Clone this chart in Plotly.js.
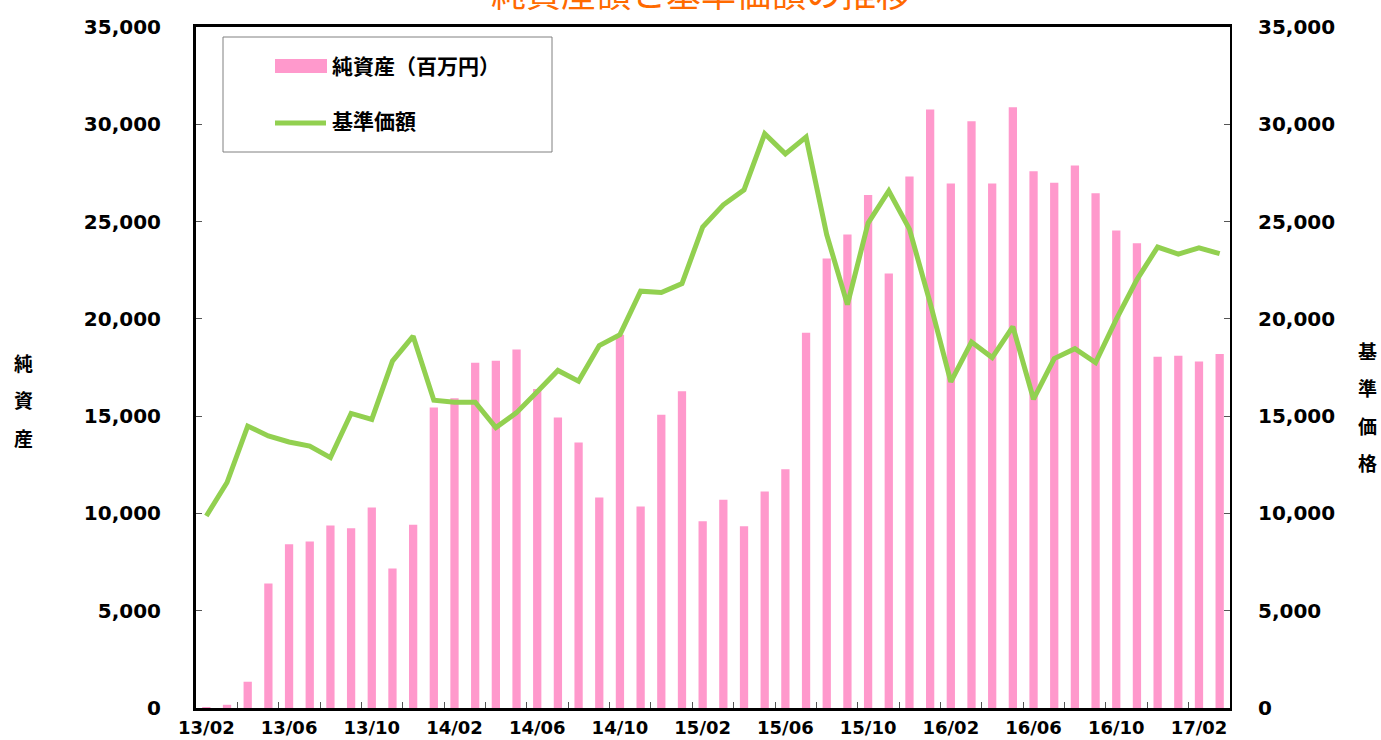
<!DOCTYPE html>
<html>
<head>
<meta charset="utf-8">
<script src="https://cdn.plot.ly/plotly-3.0.1.min.js"></script>
<style>
html,body{margin:0;padding:0;background:#fff;}
#chart{width:1381px;height:740px;}
</style>
</head>
<body>
<div id="chart"></div>
<script>
// Month labels (YY/MM)
const months = ["13/02","13/03","13/04","13/05","13/06","13/07","13/08","13/09","13/10","13/11","13/12",
  "14/01","14/02","14/03","14/04","14/05","14/06","14/07","14/08","14/09","14/10","14/11","14/12",
  "15/01","15/02","15/03","15/04","15/05","15/06","15/07","15/08","15/09","15/10","15/11","15/12",
  "16/01","16/02","16/03","16/04","16/05","16/06","16/07","16/08","16/09","16/10","16/11","16/12",
  "17/01","17/02","17/03"];

// 純資産（百万円）
const netAssets = [40,165,1350,6400,8420,8560,9380,9240,10300,7170,9420,
  15450,15920,17740,17850,18430,16400,14930,13650,10820,19180,10360,15070,
  16280,9600,10700,9340,11130,12270,19280,23100,24330,26360,22330,27320,
  30760,26960,30150,26960,30870,27580,27000,27880,26450,24540,23890,18050,
  18100,17810,18200];

// 基準価額
const nav = [9870,11590,14490,13980,13670,13460,12870,15140,14830,17830,19110,
  15820,15720,15720,14410,15180,16250,17350,16800,18630,19190,21420,21350,
  21810,24720,25860,26630,29510,28480,29340,24320,20730,24920,26570,24610,
  20820,16760,18810,18010,19600,15870,17960,18470,17750,19970,22020,23690,
  23330,23650,23350];

const chartTitle = "純資産額と基準価額の推移";
const seriesNames = ["純資産（百万円）", "基準価額"];
const leftAxisChars = ["純","資","産"];
const rightAxisChars = ["基","準","価","格"];

const xIdx = months.map((_, i) => i);
const labelIdx = xIdx.filter(i => i % 4 === 0);
const minorIdx = xIdx.filter(i => i % 2 === 1 && i < months.length - 1).map(i => i + 0.5);

const pink = "#FF99CC";
const green = "#92D050";

const traces = [
  {
    type: "bar", name: seriesNames[0], x: xIdx, y: netAssets,
    width: 0.4, marker: {color: pink, line: {width: 0}},
    yaxis: "y", showlegend: false, hoverinfo: "x+y"
  },
  {
    type: "scatter", mode: "lines", name: seriesNames[1], x: xIdx, y: nav,
    line: {color: green, width: 5, shape: "linear"},
    yaxis: "y2", showlegend: false
  }
];

const tickFontY = {family: "DejaVu Sans, Verdana, sans-serif", size: 20, color: "#000", weight: "bold"};
const tickFontX = {family: "DejaVu Sans, Verdana, sans-serif", size: 18, color: "#000", weight: "bold"};
const cjk = "Noto Sans CJK JP, Noto Sans CJK SC, sans-serif";

// pixel -> paper helpers for decorations (plot area: x 196..1230, y 27..708)
const L = 196, R = 151, T = 27, B = 32, W = 1381 - L - R, H = 740 - T - B;
const px = x => (x - L) / W;
const py = y => (740 - B - y) / H;

const annotations = [];
annotations.push({
  xref: "paper", yref: "paper", x: px(701), y: py(-9), xanchor: "center", yanchor: "middle",
  text: chartTitle, showarrow: false,
  font: {family: cjk, size: 35, color: "#FF6A00"}
});
leftAxisChars.forEach((c, i) => annotations.push({
  xref: "paper", yref: "paper", x: px(23), y: py(362 + i * 37.7), xanchor: "center", yanchor: "middle",
  text: c, showarrow: false, font: {family: cjk, size: 19, color: "#000", weight: "bold"}
}));
rightAxisChars.forEach((c, i) => annotations.push({
  xref: "paper", yref: "paper", x: px(1367), y: py(350 + i * 37.5), xanchor: "center", yanchor: "middle",
  text: c, showarrow: false, font: {family: cjk, size: 19, color: "#000", weight: "bold"}
}));
// legend texts
annotations.push({
  xref: "paper", yref: "paper", x: px(330), y: py(65), xanchor: "left", yanchor: "middle",
  text: seriesNames[0], showarrow: false, font: {family: cjk, size: 21, color: "#000", weight: "bold"}
});
annotations.push({
  xref: "paper", yref: "paper", x: px(330), y: py(120), xanchor: "left", yanchor: "middle",
  text: seriesNames[1], showarrow: false, font: {family: cjk, size: 21, color: "#000", weight: "bold"}
});

const shapes = [
  {type: "rect", xref: "paper", yref: "paper", x0: px(223), x1: px(552), y0: py(152), y1: py(37),
   line: {color: "#808080", width: 1}, fillcolor: "#fff", layer: "above"},
  {type: "rect", xref: "paper", yref: "paper", x0: px(275), x1: px(327), y0: py(73), y1: py(59),
   line: {width: 0}, fillcolor: pink, layer: "above"},
  {type: "line", xref: "paper", yref: "paper", x0: px(275), x1: px(326), y0: py(123), y1: py(123),
   line: {color: green, width: 5}, layer: "above"}
];

const layout = {
  width: 1381, height: 740,
  margin: {l: L, r: R, t: T, b: B, pad: 0},
  paper_bgcolor: "#fff", plot_bgcolor: "#fff",
  showlegend: false,
  bargap: 0.6,
  xaxis: {
    range: [-0.5, months.length - 0.5],
    tickmode: "array", tickvals: labelIdx, ticktext: labelIdx.map(i => months[i]),
    ticks: "", showgrid: false, zeroline: false,
    showline: true, linecolor: "#000", linewidth: 3, mirror: true,
    tickfont: tickFontX, ticklabelstandoff: 1,
    minor: {tickmode: "array", tickvals: minorIdx, ticks: "inside", ticklen: 6, tickcolor: "#555", tickwidth: 1, showgrid: false}
  },
  yaxis: {
    range: [0, 35000], tickmode: "linear", tick0: 0, dtick: 5000,
    tickformat: ",d", ticks: "inside", ticklen: 6, tickcolor: "#555", tickwidth: 1,
    showgrid: false, zeroline: false,
    showline: true, linecolor: "#000", linewidth: 3,
    tickfont: tickFontY, ticklabelstandoff: 28
  },
  yaxis2: {
    overlaying: "y", side: "right",
    range: [0, 35000], tickmode: "linear", tick0: 0, dtick: 5000,
    tickformat: ",d", ticks: "inside", ticklen: 6, tickcolor: "#555", tickwidth: 1,
    showgrid: false, zeroline: false,
    showline: true, linecolor: "#000", linewidth: 2,
    tickfont: tickFontY, ticklabelstandoff: 22
  },
  annotations: annotations,
  shapes: shapes
};

Plotly.newPlot("chart", traces, layout, {displayModeBar: false, responsive: false});
</script>
</body>
</html>
